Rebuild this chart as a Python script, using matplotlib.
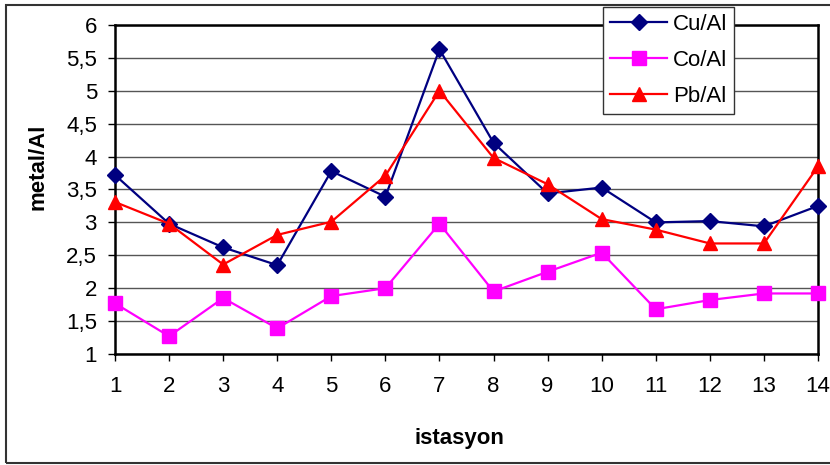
import numpy as np
import matplotlib.pyplot as plt
from matplotlib.patches import Rectangle

plt.rcParams["font.family"] = ["Liberation Sans", "DejaVu Sans"]

# station numbers and metal/Al ratios
stations = list(range(1, 15))
cu_al = [3.72, 2.98, 2.62, 2.35, 3.78, 3.39, 5.63, 4.21, 3.44, 3.53, 3.00, 3.02, 2.94, 3.25]
co_al = [1.77, 1.27, 1.85, 1.39, 1.88, 2.00, 2.98, 1.95, 2.25, 2.54, 1.68, 1.82, 1.92, 1.92]
pb_al = [3.31, 2.98, 2.36, 2.81, 3.01, 3.71, 5.00, 3.98, 3.58, 3.05, 2.89, 2.68, 2.68, 3.85]

y_ticks = np.arange(1, 6.01, 0.5)
y_labels = [f"{v:g}".replace(".", ",") for v in y_ticks]

fig = plt.figure(figsize=(8.3, 4.65), dpi=100)
ax = fig.add_axes([115 / 830, 111 / 465, 703 / 830, 329 / 465])

# outer chart-area frame
fig.patches.append(Rectangle((6 / 830, 2 / 465), 1.0, 458 / 465, transform=fig.transFigure,
                             fill=False, edgecolor="#333333", linewidth=1.5))

ax.plot(stations, cu_al, color="#000080", marker="D", markersize=8, linewidth=1.6, label="Cu/Al",
        clip_on=False, zorder=3)
ax.plot(stations, co_al, color="#FF00FF", marker="s", markersize=10, linewidth=1.6, label="Co/Al",
        clip_on=False, zorder=3)
ax.plot(stations, pb_al, color="#FF0000", marker="^", markersize=10, linewidth=1.6, label="Pb/Al",
        clip_on=False, zorder=3)

ax.set_xlim(1, 14)
ax.set_ylim(1, 6)
ax.set_xticks(stations)
ax.set_yticks(y_ticks)
ax.set_yticklabels(y_labels)
ax.tick_params(axis="both", labelsize=16, direction="out", length=5, width=1, pad=8)
ax.tick_params(axis="x", pad=11)
ax.yaxis.grid(True, color="#555555", linewidth=1)
ax.set_axisbelow(True)
for s in ax.spines.values():
    s.set_linewidth(1.8)
    s.set_color("black")

fig.text(38 / 830, 1 - 167 / 465, "metal/Al", rotation=90, fontsize=16, fontweight="bold",
         ha="center", va="center")
fig.text(459 / 830, 1 - 438 / 465, "istasyon", fontsize=16, fontweight="bold",
         ha="center", va="center")

leg = ax.legend(loc="upper left", bbox_to_anchor=(603 / 830, 1 - 7 / 465), bbox_transform=fig.transFigure,
                fontsize=16, frameon=True, fancybox=False, edgecolor="#333333", framealpha=1,
                borderpad=0.3, labelspacing=0.68, handlelength=2.6, handletextpad=0.25,
                borderaxespad=0)
leg.get_frame().set_linewidth(1)
leg.set_zorder(5)

fig.savefig("out.png", dpi=100)
